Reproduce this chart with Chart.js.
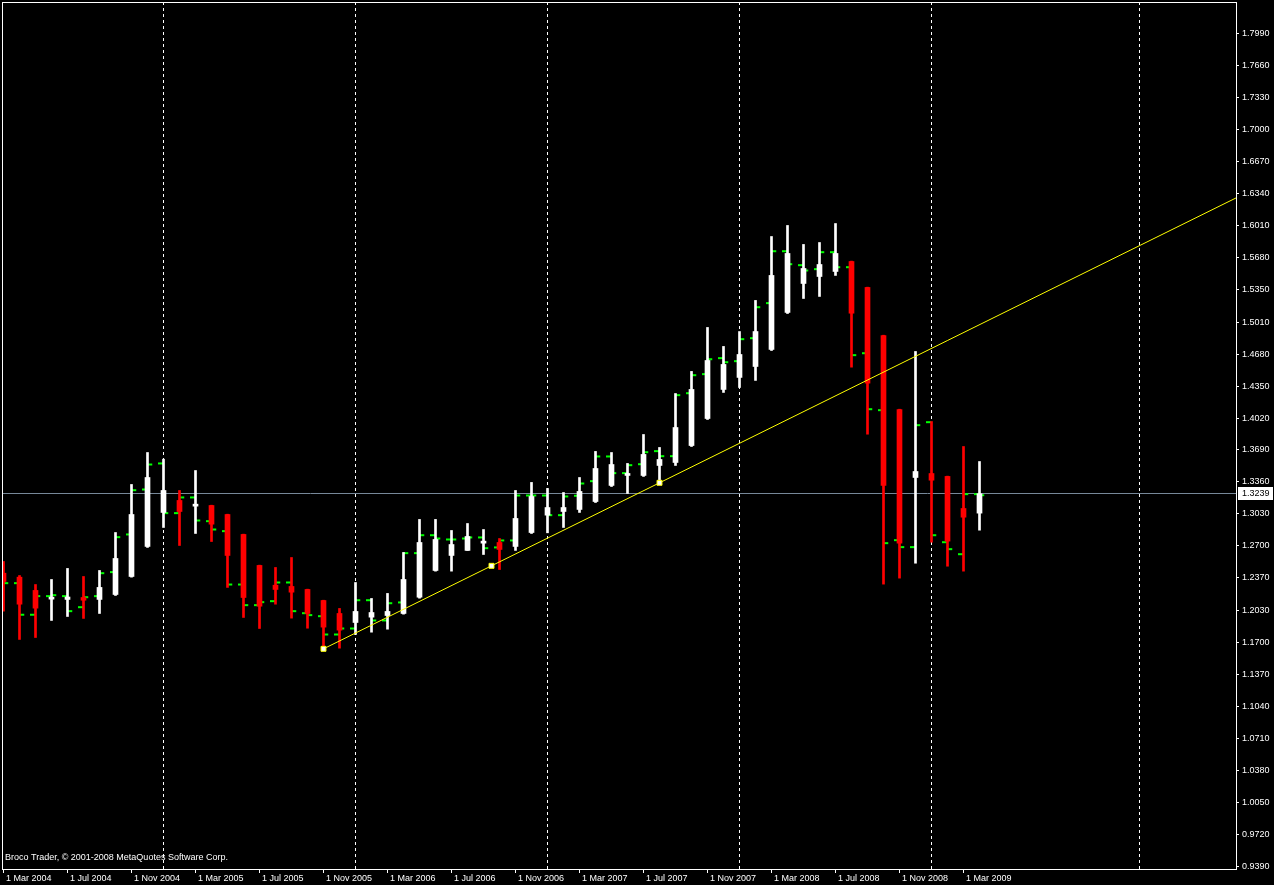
<!DOCTYPE html>
<html>
<head>
<meta charset="utf-8">
<title>Broco Trader - monthly</title>
<script src="https://cdn.jsdelivr.net/npm/chart.js@4.4.1/dist/chart.umd.min.js"></script>
<style>
    html, body { margin: 0; padding: 0; background: #000; }
    canvas { display: block; }
</style>
</head>
<body>
<canvas id="chart" width="1274" height="885"></canvas>
<script>
// monthly candles, bar 0 = Mar 2004 ... bar 61 = Apr 2009
const candleOpen = [1.2418, 1.2377, 1.2240, 1.2150, 1.2147, 1.2167, 1.2147, 1.2198, 1.2384, 1.2694,
    1.3045, 1.3169, 1.3110, 1.3117, 1.3024, 1.2818, 1.2498, 1.2294, 1.2281, 1.2250,
    1.2136, 1.2002, 1.1909, 1.1964, 1.1981, 1.2002, 1.2170, 1.2446, 1.2601, 1.2653,
    1.2728, 1.2735, 1.2694, 1.2838, 1.3017, 1.3055, 1.3076, 1.3158, 1.3324, 1.3427,
    1.3427, 1.3530, 1.3561, 1.3736, 1.4015, 1.4315, 1.4439, 1.4552, 1.4728, 1.5110,
    1.5409, 1.5481, 1.5533, 1.5636, 1.5368, 1.4872, 1.4108, 1.3406, 1.3447, 1.3417,
    1.3086, 1.3038];
const candleHigh = [1.2539, 1.2394, 1.2301, 1.2353, 1.2467, 1.2384, 1.2446, 1.2838, 1.3334, 1.3664,
    1.3595, 1.3272, 1.3478, 1.3120, 1.3027, 1.2821, 1.2501, 1.2477, 1.2580, 1.2253,
    1.2139, 1.2054, 1.2322, 1.2157, 1.2209, 1.2632, 1.2973, 1.2973, 1.2859, 1.2931,
    1.2869, 1.2776, 1.3272, 1.3355, 1.3293, 1.3251, 1.3406, 1.3675, 1.3664, 1.3551,
    1.3850, 1.3716, 1.4273, 1.4501, 1.4955, 1.4759, 1.4913, 1.5234, 1.5894, 1.6008,
    1.5812, 1.5832, 1.6028, 1.5640, 1.5371, 1.4875, 1.4111, 1.4707, 1.3984, 1.3420,
    1.3726, 1.3571];
const candleLow = [1.2026, 1.1734, 1.1754, 1.1930, 1.1971, 1.1951, 1.2002, 1.2188, 1.2377, 1.2684,
    1.2890, 1.2704, 1.2828, 1.2745, 1.2271, 1.1961, 1.1847, 1.2098, 1.1954, 1.1850,
    1.1637, 1.1644, 1.1785, 1.1809, 1.1840, 1.1995, 1.2160, 1.2439, 1.2439, 1.2653,
    1.2611, 1.2456, 1.2653, 1.2828, 1.2835, 1.2890, 1.3045, 1.3148, 1.3313, 1.3241,
    1.3417, 1.3351, 1.3530, 1.3726, 1.4005, 1.4284, 1.4335, 1.4408, 1.4717, 1.5099,
    1.5254, 1.5275, 1.5492, 1.4545, 1.3853, 1.2305, 1.2367, 1.2521, 1.2738, 1.2490,
    1.2439, 1.2862];
const candleClose = [1.2332, 1.2098, 1.2057, 1.2170, 1.2172, 1.2139, 1.2271, 1.2570, 1.3024, 1.3406,
    1.3272, 1.3055, 1.3127, 1.2924, 1.2601, 1.2167, 1.2077, 1.2250, 1.2222, 1.2002,
    1.1861, 1.1830, 1.2023, 1.2012, 1.2023, 1.2353, 1.2735, 1.2766, 1.2714, 1.2797,
    1.2749, 1.2663, 1.2983, 1.3210, 1.3096, 1.3096, 1.3262, 1.3499, 1.3540, 1.3447,
    1.3644, 1.3592, 1.3922, 1.4315, 1.4614, 1.4573, 1.4676, 1.4913, 1.5492, 1.5719,
    1.5564, 1.5605, 1.5719, 1.5102, 1.4380, 1.3324, 1.2728, 1.3468, 1.3378, 1.2749,
    1.2996, 1.3239];

// green open / close ticks drawn beside every candle
const tickOpen = [null, 1.2315, 1.1989, 1.2181, 1.2181, 1.2067, 1.2181, 1.2429, 1.2818, 1.3282,
    1.3551, 1.3038, 1.3200, 1.2955, 1.2852, 1.2301, 1.2088, 1.2129, 1.2322, 1.2005,
    1.1974, 1.1785, 1.1847, 1.2139, 1.1930, 1.2116, 1.2625, 1.2810, 1.2766, 1.2776,
    1.2787, 1.2684, 1.2756, 1.3220, 1.3220, 1.3017, 1.3217, 1.3368, 1.3623, 1.3451,
    1.3543, 1.3678, 1.3626, 1.4276, 1.4473, 1.4638, 1.4607, 1.4844, 1.5206, 1.5742,
    1.5598, 1.5557, 1.5732, 1.5577, 1.4689, 1.4101, 1.2759, 1.2687, 1.3977, 1.2738,
    1.2614, 1.3234];
const tickClose = [1.2315, 1.1989, 1.2181, 1.2191, 1.2026, 1.2170, 1.2418, 1.2790, 1.3275, 1.3540,
    1.3038, 1.3200, 1.2962, 1.2869, 1.2301, 1.2088, 1.2119, 1.2322, 1.2026, 1.1985,
    1.1785, 1.1847, 1.2139, 1.1930, 1.2108, 1.2625, 1.2810, 1.2776, 1.2766, 1.2787,
    1.2676, 1.2756, 1.3220, 1.3220, 1.3017, 1.3210, 1.3344, 1.3623, 1.3451, 1.3533,
    1.3667, 1.3626, 1.4256, 1.4462, 1.4627, 1.4596, 1.4834, 1.5164, 1.5742, 1.5608,
    1.5543, 1.5732, 1.5577, 1.4669, 1.4111, 1.2728, 1.2687, 1.3946, 1.2810, 1.2666,
    1.3234, 1.3223];

const xTickBars = [0, 4, 8, 12, 16, 20, 24, 28, 32, 36, 40, 44, 48, 52, 56, 60];
const xTickLabels = ['1 Mar 2004', '1 Jul 2004', '1 Nov 2004', '1 Mar 2005', '1 Jul 2005', '1 Nov 2005',
    '1 Mar 2006', '1 Jul 2006', '1 Nov 2006', '1 Mar 2007', '1 Jul 2007', '1 Nov 2007',
    '1 Mar 2008', '1 Jul 2008', '1 Nov 2008', '1 Mar 2009'];
const yTickLabels = ['1.7990', '1.7660', '1.7330', '1.7000', '1.6670', '1.6340', '1.6010', '1.5680', '1.5350',
    '1.5010', '1.4680', '1.4350', '1.4020', '1.3690', '1.3360', '1.3030', '1.2700', '1.2370', '1.2030',
    '1.1700', '1.1370', '1.1040', '1.0710', '1.0380', '1.0050', '0.9720', '0.9390'];

// year separators (bar index) and the trend line anchors [bar, price]
const separatorBars = [10, 22, 34, 46, 58, 71];
const trendAnchors = [[20, 1.1637], [41, 1.3351]];
const bidPrice = 1.3239;
const copyright = 'Broco Trader, \u00a9 2001-2008 MetaQuotes Software Corp.';

// visible window: 16px per bar, 0.8951 price over the plot height
const X_MIN = -0.09375, X_MAX = 77.03125;
const Y_MIN = 0.9364, Y_MAX = 1.8315;

const BULL = '#ffffff', BEAR = '#ff0000';
const FONT = {family: '"Liberation Sans", Arial, sans-serif', size: 9};

let bars = candleOpen.map((o, i) => i);
let candleColors = bars.map(i => candleClose[i] >= candleOpen[i] ? BULL : BEAR);

// trend line: two anchors, the mid point MT shows on a selected line, then the ray to the right edge
let slope = (trendAnchors[1][1] - trendAnchors[0][1]) / (trendAnchors[1][0] - trendAnchors[0][0]);
let trendPoints = [
    {x: trendAnchors[0][0], y: trendAnchors[0][1]},
    {x: (trendAnchors[0][0] + trendAnchors[1][0]) / 2, y: (trendAnchors[0][1] + trendAnchors[1][1]) / 2},
    {x: trendAnchors[1][0], y: trendAnchors[1][1]},
    {x: X_MAX, y: trendAnchors[0][1] + slope * (X_MAX - trendAnchors[0][0])}
];

// keep the plot box fixed, no label overhang padding
function noPadding(s) {
    s.paddingLeft = 0;
    s.paddingRight = 0;
    s.paddingTop = 0;
    s.paddingBottom = 0;
}

const terminalPlugin = {
    id: 'terminal',
    beforeDatasetsDraw: function (chart) {
        let ctx = chart.ctx, area = chart.chartArea;
        let xs = chart.scales.x, ys = chart.scales.y;
        ctx.save();
        // dashed period separators
        ctx.strokeStyle = '#ffffff';
        ctx.lineWidth = 1;
        ctx.setLineDash([3, 3]);
        separatorBars.forEach(function (b) {
            let px = Math.floor(xs.getPixelForValue(b)) + 0.5;
            ctx.beginPath();
            ctx.moveTo(px, area.top);
            ctx.lineTo(px, area.bottom);
            ctx.stroke();
        });
        ctx.setLineDash([]);
        // bid line
        let py = Math.floor(ys.getPixelForValue(bidPrice)) + 0.5;
        ctx.strokeStyle = '#778899';
        ctx.beginPath();
        ctx.moveTo(area.left, py);
        ctx.lineTo(area.right, py);
        ctx.stroke();
        ctx.restore();
    },
    afterDraw: function (chart) {
        let ctx = chart.ctx, area = chart.chartArea;
        let ys = chart.scales.y;
        ctx.save();
        // frame
        ctx.strokeStyle = '#ffffff';
        ctx.lineWidth = 1;
        ctx.strokeRect(area.left + 0.5, area.top + 0.5, area.right - area.left, area.bottom - area.top);
        // bid price box on the axis
        let py = Math.floor(ys.getPixelForValue(bidPrice));
        ctx.fillStyle = '#ffffff';
        ctx.fillRect(area.right + 2, py - 6, 35, 13);
        ctx.fillStyle = '#000000';
        ctx.font = FONT.size + 'px ' + FONT.family;
        ctx.textBaseline = 'middle';
        ctx.fillText(bidPrice.toFixed(4), area.right + 6, py + 0.5);
        // copyright
        ctx.fillStyle = '#ffffff';
        ctx.fillText(copyright, area.left + 3, area.bottom - 11);
        ctx.restore();
    }
};

Chart.defaults.font.family = FONT.family;
Chart.defaults.font.size = FONT.size;
Chart.defaults.color = '#ffffff';

new Chart(document.getElementById('chart'), {
    type: 'bar',
    data: {
        datasets: [
            {
                type: 'line',
                data: bars.map(i => ({x: i - 3 / 16, y: tickOpen[i]})),
                showLine: false,
                pointStyle: 'line',
                pointRadius: 2.5,
                pointBorderWidth: 2,
                pointBorderColor: '#00ff00',
                order: 5
            },
            {
                type: 'line',
                data: bars.map(i => ({x: i + 2.25 / 16, y: tickClose[i]})),
                showLine: false,
                pointStyle: 'line',
                pointRadius: 2.5,
                pointBorderWidth: 2,
                pointBorderColor: '#00ff00',
                order: 5
            },
            {
                // wicks
                data: bars.map(i => ({x: i, y: [candleLow[i], candleHigh[i]]})),
                backgroundColor: candleColors,
                borderWidth: 0,
                barThickness: 2,
                grouped: false,
                order: 4
            },
            {
                // bodies
                data: bars.map(i => ({x: i, y: [candleOpen[i], candleClose[i]]})),
                backgroundColor: candleColors,
                borderWidth: 0,
                barThickness: 5,
                minBarLength: 2,
                grouped: false,
                order: 3
            },
            {
                type: 'line',
                data: trendPoints,
                borderColor: '#ffff00',
                borderWidth: 1,
                pointStyle: 'rect',
                pointRadius: [3.5, 3.5, 3.5, 0],
                pointBackgroundColor: '#ffffff',
                pointBorderColor: '#ffff00',
                pointBorderWidth: 1,
                tension: 0,
                order: 1
            }
        ]
    },
    options: {
        responsive: false,
        animation: false,
        devicePixelRatio: 1,
        layout: {autoPadding: false, padding: {left: 2, top: 2, right: 0, bottom: 0}},
        plugins: {legend: {display: false}, tooltip: {enabled: false}},
        scales: {
            x: {
                type: 'linear',
                position: 'bottom',
                min: X_MIN,
                max: X_MAX,
                offset: false,
                grid: {display: true, drawOnChartArea: false, drawTicks: true, tickLength: 4, color: '#ffffff', offset: false},
                border: {display: false},
                ticks: {
                    align: 'start',
                    padding: 0,
                    maxRotation: 0,
                    autoSkip: false,
                    color: '#ffffff',
                    callback: (v, idx) => ' ' + xTickLabels[idx]
                },
                afterBuildTicks: s => { s.ticks = xTickBars.map(v => ({value: v})); },
                afterFit: s => { s.height = 16; noPadding(s); }
            },
            y: {
                type: 'linear',
                position: 'right',
                min: Y_MIN,
                max: Y_MAX,
                grid: {display: true, drawOnChartArea: false, drawTicks: true, tickLength: 3, color: '#ffffff'},
                border: {display: false},
                ticks: {
                    padding: 3,
                    autoSkip: false,
                    color: '#ffffff',
                    callback: (v, idx) => yTickLabels[idx]
                },
                afterBuildTicks: s => { s.ticks = yTickLabels.map(t => ({value: parseFloat(t)})); },
                afterFit: s => { s.width = 38; noPadding(s); }
            }
        }
    },
    plugins: [terminalPlugin]
});
</script>
</body>
</html>
